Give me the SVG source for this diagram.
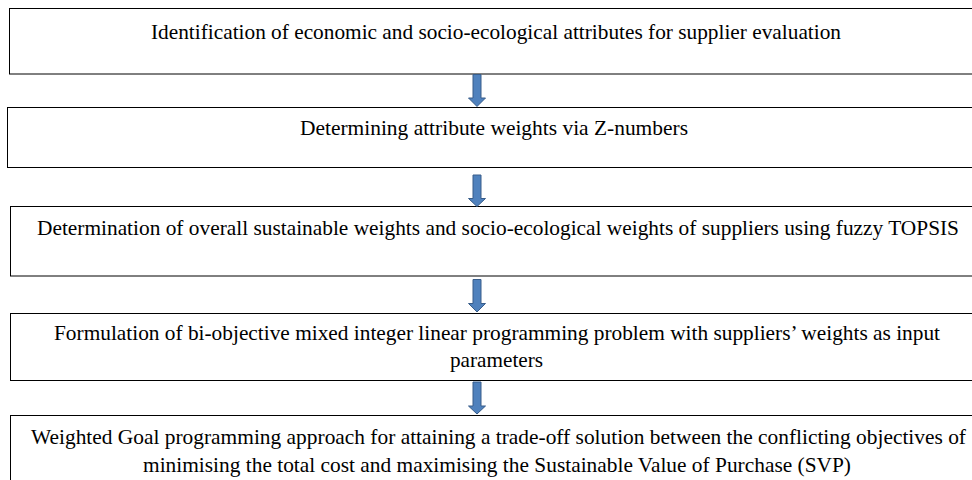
<svg xmlns="http://www.w3.org/2000/svg" width="972" height="480" viewBox="0 0 972 480">
<style>
.box{fill:#fff;stroke:#000;stroke-width:1}
.t{font-family:'Liberation Serif','Times New Roman',serif;font-size:21px;fill:#000;text-anchor:middle}
.arr{fill:#4f81bd;stroke:#385d8a;stroke-width:1}
</style>
<rect width="972" height="480" fill="#fff"/>
<g id="n1"><rect class="box" x="9.5" y="8.5" width="970" height="65.5"/>
<text class="t" x="496" y="39" textLength="690" lengthAdjust="spacingAndGlyphs">Identification of economic and socio-ecological attributes for supplier evaluation</text></g>
<g id="n2"><rect class="box" x="7.5" y="107.5" width="970" height="60"/>
<text class="t" x="494" y="134.5" textLength="388" lengthAdjust="spacingAndGlyphs">Determining attribute weights via Z-numbers</text></g>
<g id="n3"><rect class="box" x="10.5" y="206.5" width="970" height="69.5"/>
<text class="t" x="498" y="234.5" textLength="922" lengthAdjust="spacingAndGlyphs">Determination of overall sustainable weights and socio-ecological weights of suppliers using fuzzy TOPSIS</text></g>
<g id="n4"><rect class="box" x="10.5" y="313.5" width="970" height="67"/>
<text class="t" x="497" y="339.5" textLength="886" lengthAdjust="spacingAndGlyphs">Formulation of bi-objective mixed integer linear programming problem with suppliers’ weights as input</text>
<text class="t" x="496.5" y="366.5" textLength="93" lengthAdjust="spacingAndGlyphs">parameters</text></g>
<g id="n5"><rect class="box" x="10.5" y="415.5" width="970" height="70"/>
<text class="t" x="498.5" y="444" textLength="935" lengthAdjust="spacingAndGlyphs">Weighted Goal programming approach for attaining a trade-off solution between the conflicting objectives of</text>
<text class="t" x="497" y="472" textLength="708" lengthAdjust="spacingAndGlyphs">minimising the total cost and maximising the Sustainable Value of Purchase (SVP)</text></g>
<g id="connectors">
<path class="arr" d="M473,74.5 H481 V98 H485.5 L477,106.5 L468.5,98 H473 Z"/>
<path class="arr" d="M473,175 H481 V198.5 H485.5 L477,206.5 L468.5,198.5 H473 Z"/>
<path class="arr" d="M473,279.5 H481 V303.5 H485.5 L477,312 L468.5,303.5 H473 Z"/>
<path class="arr" d="M473,382 H481 V406 H485.5 L477,414 L468.5,406 H473 Z"/>
</g>
</svg>
